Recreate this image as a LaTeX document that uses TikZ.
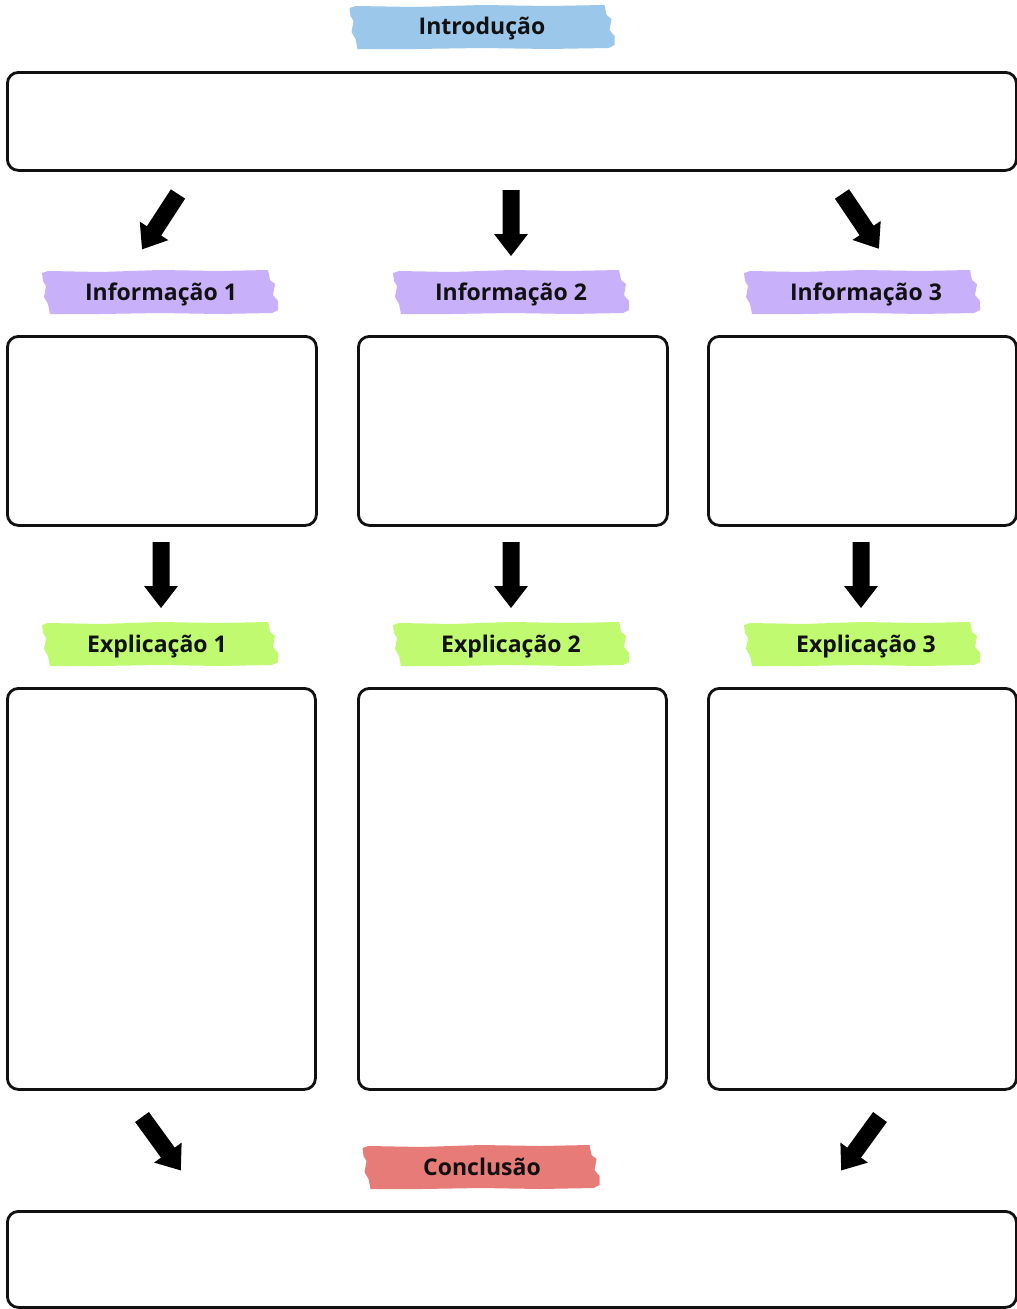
\documentclass[tikz,border=0pt]{standalone}
\usepackage{fontspec}
\setmainfont{Open Sans}
\definecolor{ink}{HTML}{111111}
\definecolor{tapeblue}{HTML}{9BC8EA}
\definecolor{tapepurple}{HTML}{C8B0FA}
\definecolor{tapegreen}{HTML}{C0FA70}
\definecolor{tapered}{HTML}{E67B78}
\tikzset{
  box/.style={draw=ink, line width=2.8pt, rounded corners=11pt, fill=white},
  tapetext/.style={font=\bfseries\fontsize{23}{26}\selectfont, text=ink, inner sep=0pt, anchor=base},
  blockarrow/.pic={\fill[black] (-8.5,0) -- (-8.5,44) -- (-17,44) -- (0,66) -- (17,44) -- (8.5,44) -- (8.5,0) -- cycle;},
  pics/tape/.style args={#1/#2}{code={
    \fill[#2] (-#1/2,-19) -- (-#1/2+6,-21) -- (-#1/4,-20) -- (0,-22) -- (#1/4,-21) -- (#1/2-10,-22)
      -- (#1/2-8,-12) -- (#1/2-3,-8) -- (#1/2-5,3) -- (#1/2,9) -- (#1/2,18) -- (#1/2-6,21)
      -- (#1/4,22) -- (0,21) -- (-#1/4,22) -- (-#1/2+8,22) -- (-#1/2+6,12) -- (-#1/2+2,5)
      -- (-#1/2+4,-6) -- (-#1/2+1,-11) -- cycle;
  }}
}
\begin{document}
\begin{tikzpicture}[x=1pt,y=-1pt]
\useasboundingbox (0,0) rectangle (1017,1309);
% Intro
\pic at (482,27) {tape={265/tapeblue}};
\node[tapetext] (intro) at (482,34) {Introdução};
\node[box, minimum width=1009pt, minimum height=98pt, anchor=north west] (introbox) at (6,71) {};
% row 1 arrows
\pic[rotate=-33] (a1) at (178,194) {blockarrow};
\pic (a2) at (511,190) {blockarrow};
\pic[rotate=34] (a3) at (842,194) {blockarrow};
% Information tapes
\pic at (160,292) {tape={236/tapepurple}};
\pic at (511,292) {tape={236/tapepurple}};
\pic at (862,292) {tape={236/tapepurple}};
\node[tapetext] (inf1) at (161,300) {Informação 1};
\node[tapetext] (inf2) at (511,300) {Informação 2};
\node[tapetext] (inf3) at (866,300) {Informação 3};
% info boxes
\node[box, minimum width=309pt, minimum height=189pt, anchor=north west] (ib1) at (6,335) {};
\node[box, minimum width=309pt, minimum height=189pt, anchor=north west] (ib2) at (357,335) {};
\node[box, minimum width=308pt, minimum height=189pt, anchor=north west] (ib3) at (707,335) {};
% row 2 arrows
\pic (b1) at (161,542) {blockarrow};
\pic (b2) at (511,542) {blockarrow};
\pic (b3) at (861,542) {blockarrow};
% explanation tapes
\pic at (160,644) {tape={236/tapegreen}};
\pic at (511,644) {tape={236/tapegreen}};
\pic at (862,644) {tape={236/tapegreen}};
\node[tapetext] (ex1) at (157,652) {Explicação 1};
\node[tapetext] (ex2) at (511,652) {Explicação 2};
\node[tapetext] (ex3) at (866,652) {Explicação 3};
% explanation boxes
\node[box, minimum width=308pt, minimum height=401pt, anchor=north west] (eb1) at (6,687) {};
\node[box, minimum width=308pt, minimum height=401pt, anchor=north west] (eb2) at (357,687) {};
\node[box, minimum width=308pt, minimum height=401pt, anchor=north west] (eb3) at (707,687) {};
% row 3 arrows
\pic[rotate=36] (c1) at (142,1117) {blockarrow};
\pic[rotate=-36] (c3) at (880,1117) {blockarrow};
% Conclusion
\pic at (481,1167) {tape={237/tapered}};
\node[tapetext] (conc) at (482,1175) {Conclusão};
\node[box, minimum width=1009pt, minimum height=96pt, anchor=north west] (concbox) at (6,1210) {};
\end{tikzpicture}
\end{document}
